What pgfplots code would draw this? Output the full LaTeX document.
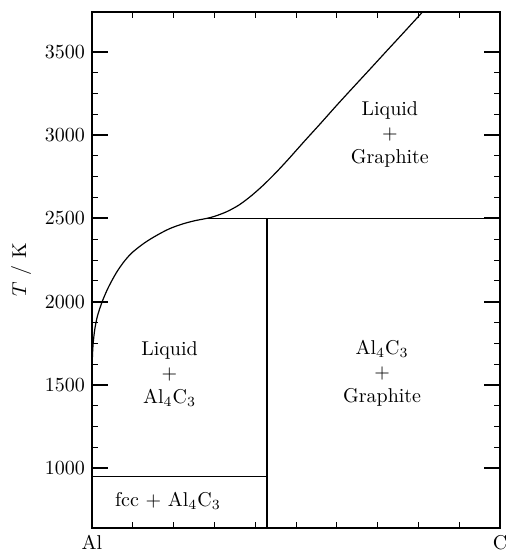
\documentclass[border=0pt]{standalone}
\usepackage{pgfplots}
\pgfplotsset{compat=1.18}
\begin{document}
\begin{tikzpicture}
\begin{axis}[
    scale only axis,
    width=204pt,
    height=258pt,
    xmin=0, xmax=1,
    ymin=640, ymax=3740,
    xtick={0,1},
    xticklabels={Al,C},
    minor xtick={0.1,0.2,0.3,0.4,0.5,0.6,0.7,0.8,0.9},
    ytick={1000,1500,2000,2500,3000,3500},
    minor y tick num=3,
    yticklabel style={/pgf/number format/set thousands separator={}},
    major tick length=8pt,
    minor tick length=3pt,
    major tick style={line width=1pt,black},
    minor tick style={line width=0.5pt,black},
    axis line style={line width=1pt},
    ylabel={$T$ / K},
    clip=false
]
% liquidus
\addplot[black, line width=0.6pt, smooth] coordinates {
    (0,1600) (0.002,1720) (0.006,1820) (0.013,1910) (0.025,2000)
    (0.04,2085) (0.06,2175) (0.08,2245) (0.10,2298) (0.13,2355)
    (0.16,2400) (0.19,2438) (0.22,2465) (0.25,2485) (0.281,2500)
    (0.30,2512) (0.33,2540) (0.36,2580) (0.39,2635) (0.42,2700)
    (0.45,2773) (0.48,2852) (0.52,2962) (0.56,3070) (0.60,3180)
    (0.64,3287) (0.68,3393) (0.72,3500) (0.76,3606) (0.81,3740)
};
% peritectic at 2500 K
\addplot[black, line width=0.6pt] coordinates {(0.281,2500) (1,2500)};
% Al4C3 line
\addplot[black, line width=1pt] coordinates {(0.4286,640) (0.4286,2500)};
% eutectic
\addplot[black, line width=0.6pt] coordinates {(0,950) (0.4286,950)};

\node[align=center] at (axis cs:0.19,1566) {Liquid\\+\\Al$_4$C$_3$};
\node at (axis cs:0.186,801) {fcc + Al$_4$C$_3$};
\node[align=center] at (axis cs:0.73,3006) {Liquid\\+\\Graphite};
\node[align=center] at (axis cs:0.711,1572) {Al$_4$C$_3$\\+\\Graphite};
\end{axis}
\pgfresetboundingbox
\path (current axis.south west) ++(-46pt,-13pt) coordinate (bl);
\path (current axis.north east) ++(2.5pt,6pt) coordinate (tr);
\path (bl) rectangle (tr);
\end{tikzpicture}
\end{document}
